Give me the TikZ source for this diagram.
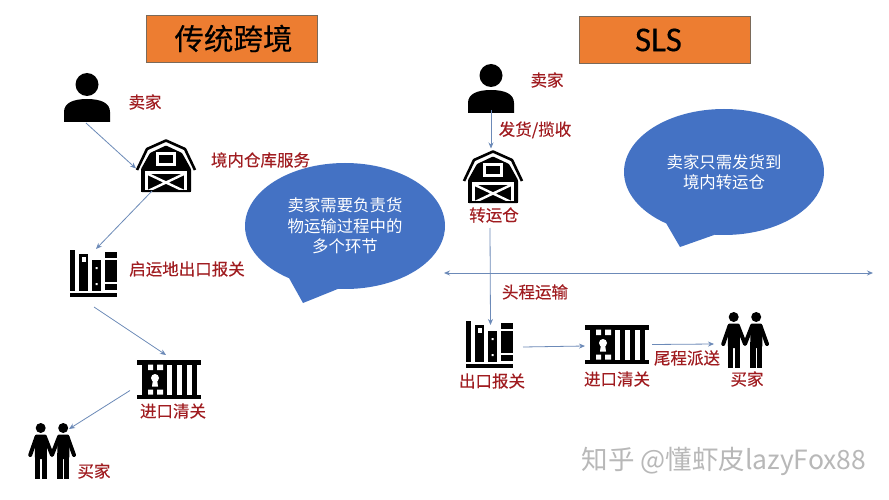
\documentclass[tikz,border=0pt]{standalone}
\usepackage{fontspec}
\setmainfont{Noto Sans CJK SC}
\newfontfamily\latinsans{Carlito}
\usetikzlibrary{shapes.callouts,arrows.meta}
\definecolor{lblred}{HTML}{A01C20}
\definecolor{boxorange}{HTML}{ED7D31}
\definecolor{boxedge}{HTML}{7A6A5A}
\definecolor{calloutblue}{HTML}{4472C4}
\definecolor{linkblue}{HTML}{6C8AB8}
\newcommand{\heavier}{\addfontfeatures{FakeBold=0.25}}
\tikzset{
  x=1pt,y=-1pt,
  iconbox/.style={inner sep=0,outer sep=0,anchor=north west},
  lbl/.style={text=lblred,font=\fontsize{16.5}{19}\selectfont\heavier,inner sep=0},
  titlebox/.style={draw=boxedge,line width=.8pt,fill=boxorange,inner sep=0,minimum width=171,minimum height=47,font=\fontsize{29.5}{32}\selectfont\heavier},
  talk/.style={ellipse callout,fill=calloutblue,inner sep=0,minimum width=200,minimum height=126,callout pointer arc=30,text=white,align=center,font=\fontsize{16.4}{20.5}\selectfont},
  link/.style={draw=linkblue,line width=.8pt,-{Stealth[length=6pt,width=5pt]}},
  person/.pic={
    \fill[black] (23,11.5) circle (11.5);
    \fill[black] (0,49) -- (0,39) .. controls (0,30) and (9,26) .. (23,26) .. controls (37,26) and (46,30) .. (46,39) -- (46,49) -- cycle;
  },
  barn/.pic={
    \draw[black,line width=2.6pt,line join=round] (1,31) -- (11,10) -- (30,1.5) -- (49,10) -- (59,31);
    \fill[black,rounded corners=1pt] (5,53) -- (5,30) -- (14,14) -- (30,6.5) -- (46,14) -- (55,30) -- (55,53) -- cycle;
    \fill[white] (20,13) rectangle (40,27);
    \fill[black] (23,16) rectangle (37,24);
    \fill[white] (9,32) rectangle (51,53);
    \fill[black] (12,35) rectangle (48,53);
    \draw[white,line width=2.4pt] (12,35) -- (48,52) (48,35) -- (12,52);
    \fill[black] (5,51) rectangle (55,53);
  },
  books/.pic={
    \fill[black] (0,0) rectangle (5,41);
    \fill[black] (9,4) rectangle (18,41);
    \fill[white] (11.5,7) rectangle (15.5,11.5);
    \fill[black] (22,10) rectangle (31,41);
    \fill[white] (25.5,17) rectangle (27.5,19) (25.5,33) rectangle (27.5,35);
    \fill[black] (35,2) rectangle (47,8);
    \fill[black] (35,10) rectangle (47,32);
    \fill[black] (35,34) rectangle (47,40);
    \fill[black] (0,43) rectangle (47,47);
  },
  gate/.pic={
    \fill[black] (0,0) rectangle (64,4.5);
    \fill[black] (0,34.5) rectangle (64,39);
    \fill[black] (5,0) rectangle (30,39);
    \fill[white] (11,4.5) rectangle (16,10) (20,4.5) rectangle (26,10);
    \fill[white] (11,29.5) rectangle (16,34.5) (20,29.5) rectangle (26,34.5);
    \fill[white] (18,18) circle (4);
    \fill[white] (16,19) -- (20,19) -- (21,26.5) -- (15,26.5) -- cycle;
    \fill[black] (35,0) rectangle (40,39);
    \fill[black] (45,0) rectangle (50,39);
    \fill[black] (55,0) rectangle (60,39);
  },
  couple/.pic={
    \foreach \d in {0,22.5}{
      \begin{scope}[xshift=\d]
        \fill[black] (12.7,5) circle (5);
        \fill[black,rounded corners=2pt] (6.8,11.5) rectangle (18.8,36);
        \fill[black] (6.8,30) rectangle (12,56);
        \fill[black] (13.8,30) rectangle (18.8,56);
      \end{scope}
    }
    \draw[black,line width=4pt,line cap=round,line join=round] (8.5,14) -- (2.2,32);
    \draw[black,line width=4pt,line cap=round,line join=round] (17,14) -- (24,32) -- (31,14);
    \draw[black,line width=4pt,line cap=round,line join=round] (39.5,14) -- (46,32);
  }
}
\begin{document}
\begin{tikzpicture}
\useasboundingbox[fill=white] (0,0) rectangle (889,500);
% titles
\node[titlebox] (titleL) at (231.5,38.5) {\hspace*{4pt}传统跨境};
\node[titlebox,font=\latinsans\fontsize{35}{38}\selectfont\heavier] (titleR) at (664.5,40) {\hspace*{-12pt}SLS};
% left column icons
\node[iconbox,minimum width=46,minimum height=49] (sellerL) at (64,73) {};
\pic at (sellerL.north west) {person};
\node[iconbox,minimum width=60,minimum height=53] (barnL) at (136,139) {};
\pic at (barnL.north west) {barn};
\node[iconbox,minimum width=47,minimum height=47] (booksL) at (70,250) {};
\pic at (booksL.north west) {books};
\node[iconbox,minimum width=64,minimum height=39] (gateL) at (137,360) {};
\pic at (gateL.north west) {gate};
\node[iconbox,minimum width=48,minimum height=56] (buyerL) at (28,423) {};
\pic at (buyerL.north west) {couple};
% left labels
\node[lbl] (t1) at (145,102) {卖家};
\node[lbl] (t2) at (260.5,160) {境内仓库服务};
\node[lbl] (t3) at (187,269) {启运地出口报关};
\node[lbl] (t4) at (173,411) {进口清关};
\node[lbl] (t5) at (94,471) {买家};
% left links
\draw[link] ([shift={(-1,1)}]sellerL.south) -- ([shift={(0,3)}]barnL.west);
\draw[link] ([shift={(-14,-1)}]barnL.south) -- ([shift={(2.5,-1)}]booksL.north);
\draw[link] ([shift={(0.5,10)}]booksL.south) -- ([shift={(-3,-5)}]gateL.north);
\draw[link] ([shift={(-7,11)}]gateL.west) -- ([shift={(17,6)}]buyerL.north);
% right column icons
\node[iconbox,minimum width=46,minimum height=49] (sellerR) at (468,64) {};
\pic at (sellerR.north west) {person};
\node[iconbox,minimum width=60,minimum height=53] (barnR) at (463,150) {};
\pic at (barnR.north west) {barn};
\node[iconbox,minimum width=47,minimum height=47] (booksR) at (466,321) {};
\pic at (booksR.north west) {books};
\node[iconbox,minimum width=64,minimum height=39] (gateR) at (585,325) {};
\pic at (gateR.north west) {gate};
\node[iconbox,minimum width=48,minimum height=56] (buyerR) at (721,312) {};
\pic at (buyerR.north west) {couple};
% right labels
\node[lbl] (t6) at (547,80) {卖家};
\node[lbl] (t7) at (535,130) {发货/揽收};
\node[lbl] (t8) at (494,215) {转运仓};
\node[lbl] (t9) at (535,292) {头程运输};
\node[lbl] (t10) at (492,381) {出口报关};
\node[lbl] (t11) at (617,379) {进口清关};
\node[lbl] (t12) at (687,358) {尾程派送};
\node[lbl] (t13) at (747,379) {买家};
% right links
\draw[link] ([yshift=3]sellerR.south) -- ([shift={(-2,-1.5)}]barnR.north);
\draw[link] ([shift={(-3,25)}]barnR.south) -- ([shift={(1,4)}]booksR.north);
\draw[link] ([shift={(10,2.5)}]booksR.east) -- ([shift={(0,1.5)}]gateR.west);
\draw[link] ([shift={(3,0)}]gateR.east) -- ([shift={(-7,4)}]buyerR.west);
% axis
\coordinate (axisL) at (444,273);
\coordinate (axisR) at (873,273);
\draw[draw=linkblue,line width=.9pt,{Stealth[length=6pt,width=5pt]}-{Stealth[length=6pt,width=5pt]}] (axisL) -- (axisR);
% callouts
\node[talk,callout absolute pointer={(303,303)}] (talkL) at (345,226) {卖家需要负责货\\物运输过程中的\\多个环节};
\node[talk,callout absolute pointer={(680,247)}] (talkR) at (724,172) {卖家只需发货到\\境内转运仓};
% watermark
\node[text=black!28,font=\fontsize{26.5}{28}\selectfont,inner sep=0] (mark) at (724,461) {知乎 @懂虾皮lazyFox88};
\end{tikzpicture}
\end{document}
